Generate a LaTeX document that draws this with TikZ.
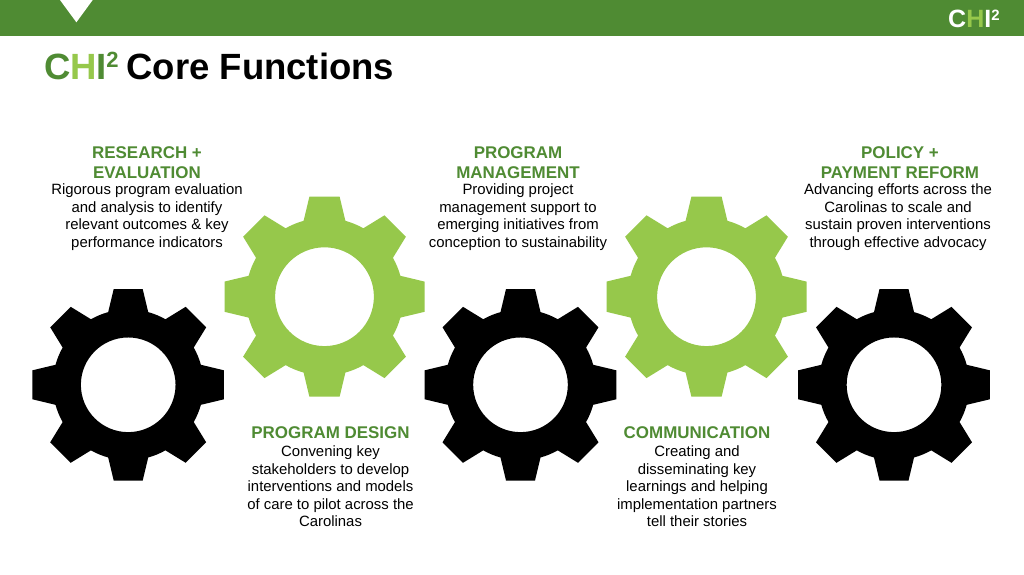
\documentclass[tikz,border=0pt]{standalone}
\usepackage{fontspec}
\setmainfont{Liberation Sans}
\definecolor{chidark}{HTML}{4F8B33}
\definecolor{chilight}{HTML}{96C84B}
\newcommand\gearshape[4]{%
\begin{scope}[shift={(#1pt,#2pt)},x=#3pt,y=#3pt]
\fill[#4,even odd rule] (-15.4:.787)
\foreach \a in {0,45,...,315}{
 -- (\a-15.4:.787) -- (\a-8.6:1.0114) -- (\a+8.6:1.0114) -- (\a+15.4:.787)
 arc[start angle=\a+15.4,end angle=\a+29.6,radius=.787]
} -- cycle (0,0) circle[radius=.494];
\end{scope}}
\tikzset{
 body/.style={align=center,font=\fontsize{14.9}{17.6}\selectfont,text=black,inner sep=0pt},
 head/.style={align=center,font=\fontsize{16.95}{20}\selectfont\bfseries,text=chidark,inner sep=0pt},
}
\begin{document}
\begin{tikzpicture}[x=1pt,y=1pt]
\useasboundingbox (0,0) rectangle (1024,574);
\fill[white] (0,0) rectangle (1024,574);
\fill[chidark] (0,538) rectangle (1024,574);
\fill[white] (60,574) -- (92.7,574) -- (76.4,551.7) -- cycle;
% logo
\node[anchor=base west,inner sep=0pt,font=\fontsize{25}{25}\selectfont\bfseries,text=white] (logo) at (948,546) {C\textcolor{chilight}{H}I\raisebox{7.5pt}{\fontsize{15}{15}\selectfont 2}};
% title
\node[anchor=base west,inner sep=0pt,font=\fontsize{36.5}{36.5}\selectfont\bfseries] (title) at (44,494.5) {\textcolor{chidark}{C}\textcolor{chilight}{H}\textcolor{chidark}{I}\hspace{-0.8pt}\raisebox{11.6pt}{\textcolor{chidark}{\fontsize{22}{22}\selectfont 2}}\hspace{8pt}Core Functions};
% gears
\gearshape{128.2}{189.2}{95.8}{black}
\gearshape{324.5}{277.3}{100}{chilight}
\gearshape{520.5}{189.2}{95.8}{black}
\gearshape{706.5}{277.3}{100}{chilight}
\gearshape{894}{189.2}{95.8}{black}
% text
\node[head] (h1) at (147,411.5) {RESEARCH +\\EVALUATION};
\node[body] (b1) at (147,357) {Rigorous program evaluation\\and analysis to identify\\relevant outcomes \& key\\performance indicators};
\node[head] (h2) at (330.5,141) {PROGRAM DESIGN};
\node[body] (b2) at (330.5,87.6) {Convening key\\stakeholders to develop\\interventions and models\\of care to pilot across the\\Carolinas};
\node[head] (h3) at (518,411.5) {PROGRAM\\MANAGEMENT};
\node[body] (b3) at (518,357) {Providing project\\management support to\\emerging initiatives from\\conception to sustainability};
\node[head] (h4) at (697,141) {COMMUNICATION};
\node[body] (b4) at (697,87.6) {Creating and\\disseminating key\\learnings and helping\\implementation partners\\tell their stories};
\node[head] (h5) at (900,411.5) {POLICY +\\PAYMENT REFORM};
\node[body] (b5) at (898,357) {Advancing efforts across the\\Carolinas to scale and\\sustain proven interventions\\through effective advocacy};
\end{tikzpicture}
\end{document}
